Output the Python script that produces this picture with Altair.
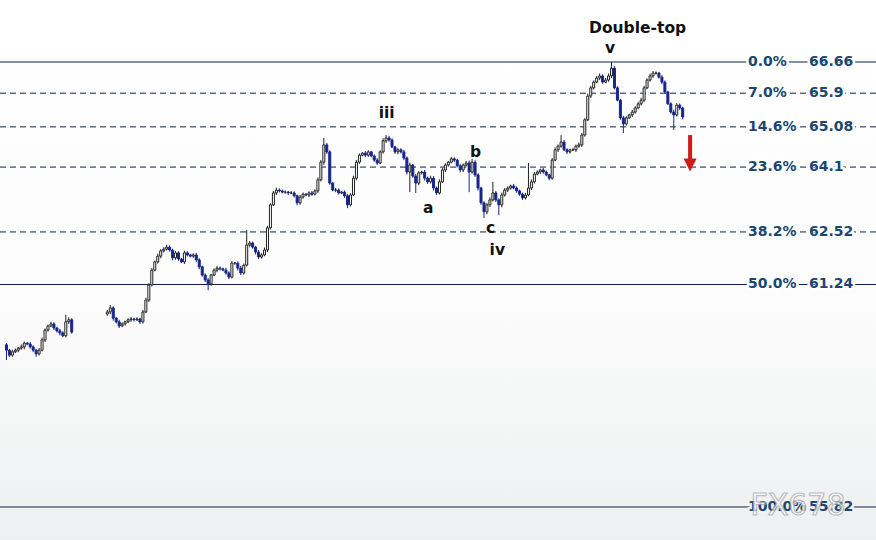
import altair as alt
import pandas as pd

# ---------------- data ----------------
# Fibonacci retracement levels
fib_pct = ["0.0%", "7.0%", "14.6%", "23.6%", "38.2%", "50.0%", "100.0%"]
fib_price = [66.66, 65.9, 65.08, 64.1, 62.52, 61.24, 55.82]

# first session of candles
seg1_start = 0
seg1_open = 59.77
seg1_close = [59.64, 59.52, 59.60, 59.64, 59.69, 59.72, 59.81, 59.79, 59.72, 59.64,
              59.55, 59.64, 59.89, 60.13, 60.23, 60.28, 60.18, 60.11, 60.06, 59.99,
              60.33, 60.38, 60.08]
# shadows above / below the body, in cents
seg1_up = [4, 3, 5, 4, 3, 6, 4, 3, 5, 4, 3, 5, 6, 4, 3, 5, 4, 3, 5, 4, 17, 6, 4]
seg1_down = [24, 5, 4, 3, 5, 4, 6, 3, 4, 5, 7, 4, 3, 5, 4, 3, 5, 4, 6, 3, 4, 5, 4]

# second session of candles (after the gap)
seg2_start = 34
seg2_open = 60.52
seg2_close = [
    60.57, 60.67, 60.42, 60.33, 60.23, 60.28, 60.33, 60.38, 60.40, 60.38,
    60.40, 60.33, 60.57, 60.86, 61.23, 61.59, 61.79, 61.93, 62.06, 62.10,
    62.15, 62.08, 61.89, 62.01, 61.86, 61.79, 62.01, 61.96, 61.93, 61.96,
    61.84, 61.67, 61.47, 61.35, 61.25, 61.47, 61.59, 61.64, 61.62, 61.59,
    61.52, 61.42, 61.76, 61.76, 61.64, 61.52, 61.71, 62.20, 62.25, 62.15,
    62.03, 61.91, 61.96, 62.08, 62.62, 63.18, 63.47, 63.54, 63.52, 63.49,
    63.49, 63.47, 63.47, 63.40, 63.23, 63.37, 63.44, 63.42, 63.47, 63.44,
    63.52, 63.79, 64.22, 64.64, 64.47, 63.71, 63.54, 63.54, 63.47, 63.49,
    63.40, 63.18, 63.42, 63.83, 64.22, 64.39, 64.44, 64.39, 64.47, 64.37,
    64.27, 64.20, 64.47, 64.74, 64.81, 64.76, 64.59, 64.47, 64.52, 64.47,
    64.32, 63.98, 64.15, 63.88, 63.71, 63.96, 63.98, 63.83, 63.74, 63.83,
    63.59, 63.47, 63.74, 64.03, 64.15, 64.22, 64.30, 64.27, 64.13, 64.03,
    64.15, 64.20, 63.98, 64.22, 63.91, 63.59, 63.23, 63.01, 63.18, 63.30,
    63.47, 63.30, 63.18, 63.42, 63.54, 63.59, 63.64, 63.59, 63.52, 63.44,
    63.35, 63.42, 63.59, 63.74, 63.93, 63.98, 64.03, 63.98, 63.91, 63.83,
    64.27, 64.52, 64.61, 64.71, 64.52, 64.47, 64.52, 64.52, 64.61, 64.64,
    64.88, 65.25, 65.83, 66.03, 66.17, 66.27, 66.32, 66.17, 66.22, 66.32,
    66.51, 66.03, 65.73, 65.30, 65.15, 65.30, 65.37, 65.44, 65.54, 65.64,
    65.73, 66.03, 66.22, 66.32, 66.39, 66.39, 66.29, 66.17, 65.93, 65.64,
    65.44, 65.37, 65.61, 65.54, 65.32,
]
seg2_up = [
    5, 7, 4, 3, 5, 4, 3, 4, 5, 3,
    4, 3, 5, 6, 4, 5, 3, 6, 4, 5,
    6, 4, 3, 5, 4, 3, 5, 4, 3, 4,
    5, 4, 3, 4, 5, 3, 4, 5, 4, 3,
    6, 4, 5, 3, 4, 5, 4, 37, 5, 4,
    3, 5, 4, 6, 5, 4, 5, 6, 4, 3,
    4, 3, 5, 4, 3, 5, 4, 3, 4, 5,
    4, 6, 5, 17, 5, 4, 3, 5, 4, 3,
    4, 5, 4, 6, 5, 4, 3, 5, 4, 3,
    4, 5, 4, 6, 7, 5, 4, 3, 5, 4,
    5, 4, 6, 3, 5, 4, 3, 5, 4, 6,
    5, 4, 6, 5, 4, 3, 5, 4, 3, 5,
    4, 5, 6, 8, 5, 4, 3, 4, 5, 6,
    27, 5, 4, 6, 5, 4, 3, 5, 4, 3,
    4, 5, 61, 6, 5, 4, 3, 5, 4, 3,
    5, 6, 4, 17, 5, 4, 3, 5, 4, 6,
    5, 4, 6, 5, 4, 5, 6, 4, 5, 6,
    15, 5, 4, 3, 5, 4, 3, 5, 4, 5,
    6, 5, 4, 6, 5, 4, 3, 5, 4, 3,
    4, 6, 5, 4, 3,
]
seg2_down = [
    4, 5, 6, 4, 5, 3, 4, 3, 5, 4,
    3, 5, 4, 3, 5, 4, 3, 4, 5, 4,
    3, 4, 6, 5, 4, 3, 5, 4, 3, 4,
    5, 6, 4, 5, 15, 4, 3, 5, 4, 3,
    4, 5, 3, 4, 6, 5, 4, 3, 5, 4,
    6, 5, 4, 3, 5, 4, 3, 5, 4, 3,
    4, 5, 3, 4, 6, 5, 4, 3, 5, 4,
    3, 5, 4, 6, 5, 4, 3, 5, 4, 3,
    5, 8, 4, 3, 5, 4, 3, 5, 4, 3,
    4, 5, 3, 4, 5, 4, 3, 5, 6, 4,
    5, 6, 49, 4, 24, 5, 4, 6, 5, 4,
    6, 5, 4, 3, 5, 4, 3, 5, 4, 6,
    5, 4, 49, 4, 5, 6, 5, 15, 6, 5,
    4, 5, 25, 6, 4, 5, 4, 3, 5, 4,
    5, 4, 3, 5, 4, 3, 5, 4, 3, 5,
    4, 3, 5, 4, 3, 5, 4, 3, 5, 4,
    5, 4, 3, 5, 4, 3, 5, 4, 3, 4,
    5, 4, 3, 5, 22, 4, 3, 5, 4, 3,
    4, 5, 3, 4, 5, 4, 3, 5, 4, 3,
    4, 37, 4, 5, 6,
]

# wave labels: text, bar position, price
wave_text = ["Double-top", "v", "iii", "a", "b", "c", "iv"]
wave_bar = [212.8, 203.5, 128.2, 142.2, 158.2, 163.2, 165.5]
wave_price = [67.49, 67.00, 65.42, 63.10, 64.47, 62.62, 62.08]

# expected move arrow
arrow_bar = 230.5
arrow_from = 64.88
arrow_to = 64.27
arrow_head = 64.15

# ---------------- build tables ----------------
def session(start, first_open, closes, up, down):
    rows = []
    prev = first_open
    for k, c in enumerate(closes):
        o = prev
        rows.append({
            "i": start + k,
            "open": o,
            "close": c,
            "high": round(max(o, c) + up[k] / 100, 2),
            "low": round(min(o, c) - down[k] / 100, 2),
            "dir": "up" if c >= o else "down",
        })
        prev = c
    return rows

candles = pd.DataFrame(
    session(seg1_start, seg1_open, seg1_close, seg1_up, seg1_down)
    + session(seg2_start, seg2_open, seg2_close, seg2_up, seg2_down)
)
fib = pd.DataFrame({"pct": fib_pct, "price": fib_price,
                    "val": [f"{p:g}" for p in fib_price]})
SOLID = ["0.0%", "50.0%", "100.0%"]
waves = pd.DataFrame({"t": wave_text, "i": wave_bar, "p": wave_price})
arrow = pd.DataFrame({"i": [arrow_bar], "a": [arrow_from], "b": [arrow_to], "h": [arrow_head]})

# ---------------- styling ----------------
W, H = 876, 540
LINE = "#0e2244"
LABEL = "#1a4670"
BEAR = "#18268a"
BULL_EDGE = "#222222"
RED = "#cf1b1b"
FONT = "DejaVu Sans"

xs = alt.Scale(domain=[-0.5, 291.5], nice=False, zero=False)
ys = alt.Scale(domain=[55.016, 68.17], nice=False, zero=False)
X = lambda f: alt.X(f, type="quantitative", scale=xs, axis=None)
Y = lambda f: alt.Y(f, type="quantitative", scale=ys, axis=None)

background = alt.Chart(pd.DataFrame({"k": [0]})).mark_rect(
    color={"gradient": "linear", "x1": 0, "x2": 0, "y1": 0, "y2": 1,
           "stops": [{"offset": 0, "color": "#ffffff"},
                     {"offset": 0.55, "color": "#fcfcfc"},
                     {"offset": 1, "color": "#eeeff0"}]}
).encode(x=alt.value(0), x2=alt.value(W), y=alt.value(0), y2=alt.value(H))

solid_lines = alt.Chart(fib).transform_filter(
    alt.FieldOneOfPredicate(field="pct", oneOf=SOLID)
).mark_rule(color=LINE, strokeWidth=1).encode(y=Y("price"))

dashed_lines = alt.Chart(fib).transform_filter(
    {"not": alt.FieldOneOfPredicate(field="pct", oneOf=SOLID)}
).mark_rule(color=LINE, strokeWidth=1, strokeDash=[6, 4]).encode(y=Y("price"))

dir_dom = ["up", "down"]
wicks = alt.Chart(candles).mark_rule(strokeWidth=1).encode(
    x=X("i"), y=Y("low"), y2="high",
    color=alt.Color("dir:N", scale=alt.Scale(domain=dir_dom, range=[BULL_EDGE, BEAR]), legend=None),
)
bodies = alt.Chart(candles).mark_bar(size=2, strokeWidth=1).encode(
    x=X("i"), y=Y("open"), y2="close",
    fill=alt.Fill("dir:N", scale=alt.Scale(domain=dir_dom, range=["#ffffff", BEAR]), legend=None),
    stroke=alt.Stroke("dir:N", scale=alt.Scale(domain=dir_dom, range=[BULL_EDGE, BEAR]), legend=None),
)

halo_color = alt.condition("datum.price < 58", alt.value("#f1f1f2"), alt.value("#ffffff"))
text_style = dict(align="left", baseline="middle", font=FONT, fontWeight="bold", fontSize=14)

def level_text(field, xpos):
    halo = alt.Chart(fib).mark_text(strokeWidth=5, strokeJoin="round", **text_style).encode(
        x=alt.value(xpos), y=Y("price"), text=f"{field}:N", stroke=halo_color, fill=halo_color)
    front = alt.Chart(fib).mark_text(color=LABEL, **text_style).encode(
        x=alt.value(xpos), y=Y("price"), text=f"{field}:N")
    return [halo, front]

wave_labels = alt.Chart(waves).mark_text(
    font=FONT, fontWeight="bold", fontSize=15.5, color="#111111", baseline="middle"
).encode(x=X("i"), y=Y("p"), text="t:N")

arrow_shaft = alt.Chart(arrow).mark_rule(color=RED, strokeWidth=4).encode(
    x=X("i"), y=Y("a"), y2="b")
arrow_tip = alt.Chart(arrow).mark_point(
    shape="M-1,-1L1,-1L0,1Z", size=170, filled=True, color=RED, opacity=1
).encode(x=X("i"), y=Y("h"))

watermark = alt.Chart(pd.DataFrame({"t": ["FX678"]})).mark_text(
    font=FONT, fontSize=30, fill="#ffffff", stroke="#a9a9a9", strokeWidth=1.2,
    opacity=0.75, align="center", baseline="middle"
).encode(x=alt.value(798), y=alt.value(506), text="t:N")

chart = alt.layer(
    background, solid_lines, dashed_lines,
    *level_text("pct", 748), *level_text("val", 809),
    wicks, bodies, wave_labels, arrow_shaft, arrow_tip, watermark,
).properties(
    width=W, height=H, padding=0, autosize="none"
).configure_view(stroke=None).configure(background="#ffffff")

chart.save("out.html", embed_options={"renderer": "svg", "actions": False})
